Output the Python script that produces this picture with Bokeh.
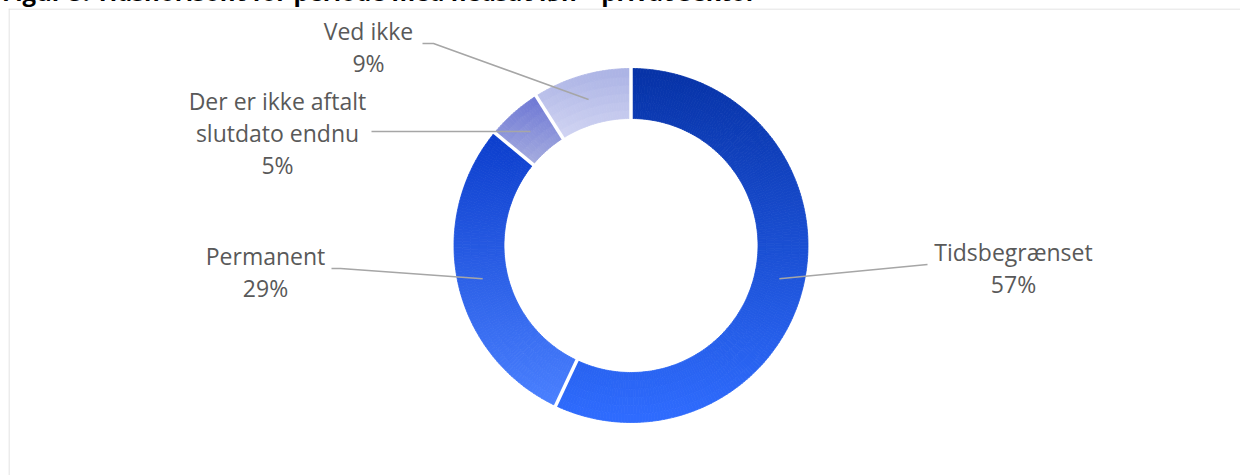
import numpy as np
from bokeh.plotting import figure
from bokeh.models import Range1d, Span, Div, ColumnDataSource
from bokeh.layouts import column
from bokeh.core.properties import value
from bokeh.embed import file_html
from bokeh.resources import INLINE

# ---------------- data ----------------
title_text = "Figur 5: Tidshorisont for periode med nedsat løn – privat sektor"
categories = ["Tidsbegrænset", "Permanent", "Der er ikke aftalt slutdato endnu", "Ved ikke"]
shares = [57, 29, 5, 9]
share_labels = ["57%", "29%", "5%", "9%"]
label_lines = [["Tidsbegrænset"], ["Permanent"], ["Der er ikke aftalt", "slutdato endnu"], ["Ved ikke"]]

# ---------------- styles / layout ----------------
top_colors = ["#0632a6", "#0b3dcc", "#6c76d4", "#aab2e4"]
bottom_colors = ["#2f6cff", "#4a80ff", "#a6addf", "#d2d5f3"]
text_color = "#595959"
leader_color = "#a6a6a6"
FONT = "Open Sans"
FS = 23
LINE_H = 32

W, H = 1232, 467


def px(x):
    return x - 8


def py(y):
    return H + 8 - y


cx, cy = px(630.5), py(245)
r_out, r_in = 177, 127
r_mid = (r_out + r_in) / 2

# label placement (page px): center x, first line center y, leader end points
label_pos = [(1013, 251), (265, 255), (277, 100), (368, 30)]
leader_ends = [
    [(927, 264)],
    [(340, 268), (331, 268)],
    [(371, 131)],
    [(433, 43), (422, 43)],
]


def hex2rgb(h):
    h = h.lstrip("#")
    return np.array([int(h[i:i + 2], 16) for i in (0, 2, 4)], dtype=float)


def rgb2hex(c):
    c = np.clip(np.round(c), 0, 255).astype(int)
    return "#%02x%02x%02x" % tuple(c)


p = figure(width=W, height=H, x_range=Range1d(0, W), y_range=Range1d(0, H),
           output_backend="svg", toolbar_location=None, min_border=0,
           margin=(0, 0, 0, 8))
p.axis.visible = False
p.grid.visible = False
p.outline_line_color = None
p.background_fill_color = "white"
p.border_fill_color = "white"

# ---------------- donut with vertical gradient ----------------
total = float(sum(shares))
edges = np.concatenate([[0.0], np.cumsum(shares)]) / total * 2 * np.pi

sx, sy, s_start, s_end, s_rin, s_rout, s_col = [], [], [], [], [], [], []
n_rad = 6
for i, (a0, a1) in enumerate(zip(edges[:-1], edges[1:])):
    ts = np.linspace(a0, a1, 600)
    yy = np.concatenate([cy + r_out * np.cos(ts), cy + r_in * np.cos(ts)])
    ytop, ybot = yy.max(), yy.min()
    c0, c1 = hex2rgb(top_colors[i]), hex2rgb(bottom_colors[i])
    n_ang = max(3, int(np.degrees(a1 - a0)))
    ang = np.linspace(a0, a1, n_ang + 1)
    rad = np.linspace(r_in, r_out, n_rad + 1)
    for j in range(n_ang):
        tm = 0.5 * (ang[j] + ang[j + 1])
        for k in range(n_rad):
            rm = 0.5 * (rad[k] + rad[k + 1])
            yc = cy + rm * np.cos(tm)
            t = (ytop - yc) / (ytop - ybot)
            sx.append(cx)
            sy.append(cy)
            s_start.append(np.pi / 2 - ang[j + 1])
            s_end.append(np.pi / 2 - ang[j])
            s_rin.append(rad[k])
            s_rout.append(rad[k + 1])
            s_col.append(rgb2hex(c0 + (c1 - c0) * t))

wsrc = ColumnDataSource(dict(x=sx, y=sy, start=s_start, end=s_end,
                             rin=s_rin, rout=s_rout, color=s_col))
p.annular_wedge(x="x", y="y", inner_radius="rin", outer_radius="rout",
                start_angle="start", end_angle="end", fill_color="color",
                line_color="color", line_width=0.8, source=wsrc)

# white separators between slices
bx0, by0, bx1, by1 = [], [], [], []
for a in edges[:-1]:
    bx0.append(cx + (r_in - 2) * np.sin(a))
    by0.append(cy + (r_in - 2) * np.cos(a))
    bx1.append(cx + (r_out + 2) * np.sin(a))
    by1.append(cy + (r_out + 2) * np.cos(a))
p.segment(x0=bx0, y0=by0, x1=bx1, y1=by1, line_color="white", line_width=3.5)

# ---------------- leader lines ----------------
lxs, lys = [], []
for i, (a0, a1) in enumerate(zip(edges[:-1], edges[1:])):
    am = 0.5 * (a0 + a1)
    ax, ay = cx + r_mid * np.sin(am), cy + r_mid * np.cos(am)
    xs = [ax] + [px(e[0]) for e in leader_ends[i]]
    ys = [ay] + [py(e[1]) for e in leader_ends[i]]
    lxs.append(xs)
    lys.append(ys)
p.multi_line(xs=lxs, ys=lys, line_color=leader_color, line_width=1.5)

# ---------------- labels ----------------
tx, ty, tt = [], [], []
for i in range(len(categories)):
    lx, ly = label_pos[i]
    lines = label_lines[i] + [share_labels[i]]
    for n, s in enumerate(lines):
        tx.append(px(lx))
        ty.append(py(ly + n * LINE_H))
        tt.append(s)
p.text(x=tx, y=ty, text=tt, text_align="center", text_baseline="middle",
       text_font=value(FONT), text_font_size=f"{FS}px", text_color=text_color)

# ---------------- chart area border (left & top visible) ----------------
p.add_layout(Span(location=0.5, dimension="height", line_color="#d9d9d9", line_width=1))
p.add_layout(Span(location=H - 0.5, dimension="width", line_color="#d9d9d9", line_width=1))

title_html = ('<span style="position:relative; left:-6px; white-space:nowrap;">'
              + title_text + '</span>')
title_div = Div(text=title_html, width=W, height=30, margin=(-22, 0, 0, 8),
                styles={"font-family": "Open Sans", "font-size": "24px",
                        "font-weight": "bold", "color": "#000000",
                        "line-height": "27px", "white-space": "nowrap"})

layout = column(title_div, p, spacing=0)

open("out.html", "w").write(file_html(layout, INLINE))
